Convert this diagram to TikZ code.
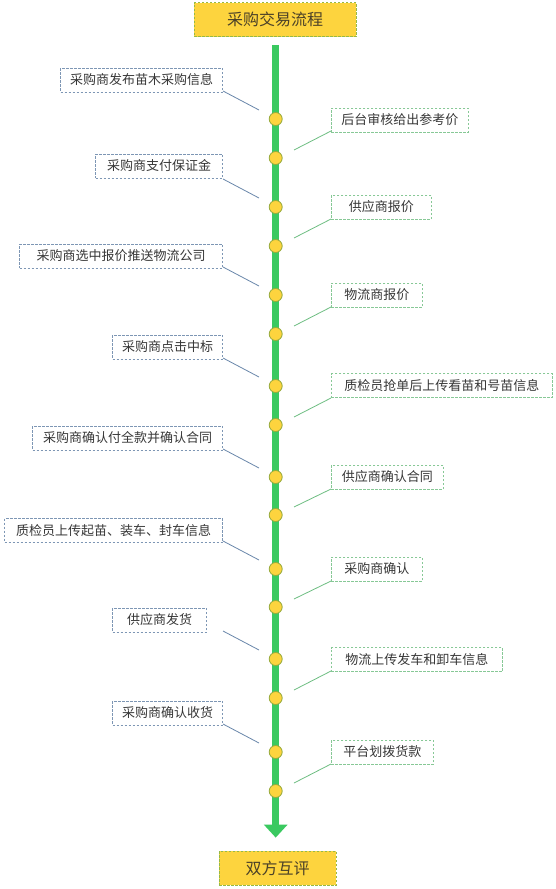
\documentclass[tikz,border=0pt]{standalone}
\usepackage{fontspec}
\setmainfont{Noto Sans CJK SC}
\usetikzlibrary{arrows.meta}
\definecolor{spinegreen}{RGB}{58,201,96}
\definecolor{gold}{RGB}{253,212,62}
\definecolor{goldborder}{RGB}{150,185,70}
\definecolor{dotborder}{RGB}{150,170,60}
\definecolor{lborder}{RGB}{125,150,180}
\definecolor{lline}{RGB}{105,135,170}
\definecolor{rborder}{RGB}{135,200,150}
\definecolor{rline}{RGB}{110,190,130}
\definecolor{txt}{RGB}{55,55,55}
\definecolor{titletxt}{RGB}{75,65,40}
\tikzset{
  endbox/.style={draw=goldborder, fill=gold, dash pattern=on 2.5pt off 1.5pt, line width=0.8pt,
    text=titletxt, font=\fontsize{16pt}{18pt}\selectfont, inner sep=0pt},
  lbox/.style={draw=lborder, dash pattern=on 2.5pt off 1.5pt, line width=0.7pt, fill=white,
    text=txt, font=\fontsize{13pt}{15pt}\selectfont, minimum height=24pt, inner sep=0pt, anchor=east},
  rbox/.style={draw=rborder, dash pattern=on 2.5pt off 1.5pt, line width=0.7pt, fill=white,
    text=txt, font=\fontsize{13pt}{15pt}\selectfont, minimum height=24pt, inner sep=0pt, anchor=west},
  lconn/.style={draw=lline, line width=0.8pt},
  rconn/.style={draw=rline, line width=0.8pt},
  dot/.style={circle, draw=dotborder, fill=gold, line width=0.8pt, minimum size=13pt, inner sep=0pt},
  spineline/.style={draw=spinegreen, line width=7pt, -{Triangle[width=23pt,length=13pt]}}
}
\begin{document}
\begin{tikzpicture}[x=1pt,y=-1pt]
\useasboundingbox[fill=white] (0,0) rectangle (555,889);
% start / end boxes
\node[endbox, minimum width=162pt, minimum height=34pt] (top) at (275.2,19.5) {采购交易流程};
\node[endbox, minimum width=117pt, minimum height=34pt] (bot) at (277.6,868) {双方互评};
% spine
\draw[spineline, shorten <=8pt, shorten >=13pt] (top.south -| 275.7,0) -- (bot.north -| 275.7,0);
% dots
\foreach \i/\yy in {1/119,2/158,3/207,4/246,5/295,6/334,7/386,8/425,9/477,10/515,11/569,12/607,13/659,14/698,15/752,16/791}{
  \node[dot] (c\i) at (275.7,\yy) {};
}
% left boxes
\node[lbox, minimum width=162pt] (L1) at (223,80) {采购商发布苗木采购信息};
\node[lbox, minimum width=127pt] (L2) at (223,166) {采购商支付保证金};
\node[lbox, minimum width=203pt] (L3) at (223,256) {采购商选中报价推送物流公司};
\node[lbox, minimum width=110pt] (L4) at (223,347) {采购商点击中标};
\node[lbox, minimum width=190pt] (L5) at (223,438) {采购商确认付全款并确认合同};
\node[lbox, minimum width=218pt] (L6) at (223,530.5) {质检员上传起苗、装车、封车信息};
\node[lbox, minimum width=94pt] (L7) at (207,620) {供应商发货};
\node[lbox, minimum width=110pt] (L8) at (223,713) {采购商确认收货};
% right boxes
\node[rbox, minimum width=137pt] (R1) at (331,120) {后台审核给出参考价};
\node[rbox, minimum width=100pt] (R2) at (331,207) {供应商报价};
\node[rbox, minimum width=91pt] (R3) at (331,295) {物流商报价};
\node[rbox, minimum width=221pt] (R4) at (331,385.5) {质检员抢单后上传看苗和号苗信息};
\node[rbox, minimum width=112pt] (R5) at (331,477) {供应商确认合同};
\node[rbox, minimum width=91pt] (R6) at (331,569) {采购商确认};
\node[rbox, minimum width=171pt] (R7) at (331,659.5) {物流上传发车和卸车信息};
\node[rbox, minimum width=102pt] (R8) at (331,752) {平台划拨货款};
% connector end points
\foreach \i/\a/\b in {1/119/158,2/207/246,3/295/334,4/386/425,5/477/515,6/569/607,7/659/698,8/752/791}{
  \coordinate (la\i) at (223,\a-28);
  \coordinate (lb\i) at (259,\a-9);
  \coordinate (ra\i) at (331,\a+12);
  \coordinate (rb\i) at (294,\b-8);
  \draw[lconn] (la\i) -- (lb\i);
  \draw[rconn] (ra\i) -- (rb\i);
}
\end{tikzpicture}
\end{document}
